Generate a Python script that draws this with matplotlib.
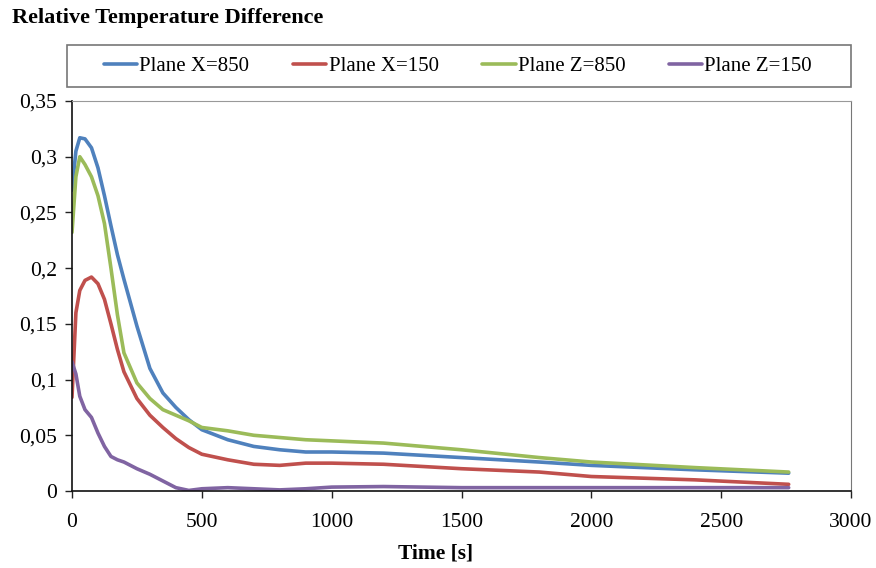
import matplotlib
matplotlib.use("Agg")
import matplotlib.pyplot as plt
from matplotlib.ticker import FuncFormatter, MultipleLocator
from matplotlib.patches import Rectangle

time_s = [0, 15, 30, 50, 75, 100, 125, 150, 175, 200, 250, 300, 350, 400, 450,
          500, 600, 700, 800, 900, 1000, 1200, 1500, 1800, 2000, 2400, 2760]
plane_x850 = [0.270, 0.305, 0.317, 0.316, 0.308, 0.290, 0.265, 0.238, 0.212, 0.190,
              0.148, 0.110, 0.088, 0.075, 0.064, 0.055, 0.046, 0.040, 0.037, 0.035,
              0.035, 0.034, 0.030, 0.026, 0.023, 0.019, 0.016]
plane_x150 = [0.084, 0.160, 0.180, 0.189, 0.192, 0.186, 0.172, 0.150, 0.127, 0.107,
              0.083, 0.068, 0.057, 0.047, 0.039, 0.033, 0.028, 0.024, 0.023, 0.025,
              0.025, 0.024, 0.020, 0.017, 0.013, 0.010, 0.006]
plane_z850 = [0.232, 0.282, 0.300, 0.293, 0.282, 0.265, 0.240, 0.200, 0.158, 0.124,
              0.097, 0.083, 0.073, 0.068, 0.063, 0.057, 0.054, 0.050, 0.048, 0.046,
              0.045, 0.043, 0.037, 0.030, 0.026, 0.021, 0.017]
plane_z150 = [0.116, 0.105, 0.085, 0.073, 0.066, 0.052, 0.040, 0.031, 0.028, 0.026,
              0.020, 0.015, 0.009, 0.003, 0.0005, 0.002, 0.003, 0.002, 0.001, 0.002,
              0.0035, 0.004, 0.003, 0.003, 0.003, 0.003, 0.003]

series_labels = ["Plane X=850", "Plane X=150", "Plane Z=850", "Plane Z=150"]
series_colors = ["#4F81BD", "#C0504D", "#9BBB59", "#8064A2"]

plt.rcParams['font.family'] = ['Liberation Serif', 'DejaVu Serif']

fig = plt.figure(figsize=(8.76, 5.68), dpi=100)
ax = fig.add_axes([72/876, 77/568, 779/876, 390/568])

for vals, lab, col in zip([plane_x850, plane_x150, plane_z850, plane_z150],
                          series_labels, series_colors):
    ax.plot(time_s, vals, color=col, lw=2.6, label=lab, solid_capstyle='round',
            solid_joinstyle='round')

ax.set_xlim(0, 3000)
ax.set_ylim(0, 0.35)
ax.xaxis.set_major_locator(MultipleLocator(500))
ax.yaxis.set_major_locator(MultipleLocator(0.05))
ax.yaxis.set_major_formatter(FuncFormatter(lambda v, p: ("%g" % round(v, 3)).replace('.', ',')))
ax.tick_params(axis='both', direction='out', length=5, width=1, labelsize=15.5, color='#222222')
ax.tick_params(axis='x', pad=11)
ax.tick_params(axis='y', pad=6)
for s in ['left', 'bottom']:
    ax.spines[s].set_color('#111111')
    ax.spines[s].set_linewidth(1.2)
ax.spines['top'].set_color('#999999')
ax.spines['right'].set_color('#777777')
ax.set_xlabel("Time [s]", fontsize=15.5, fontweight='bold')
ax.xaxis.set_label_coords((436 - 72) / 779, -0.135)

fig.text(12/876, 1 - 18/568, "Relative Temperature Difference", fontsize=16,
         fontweight='bold', va='center', ha='left')

box = Rectangle((67/876, 1 - 87/568), (851-67)/876, 42/568, transform=fig.transFigure,
                fill=False, edgecolor='#777777', lw=1.2)
fig.add_artist(box)
handles, labels = ax.get_legend_handles_labels()
fig.legend(handles, labels, loc='center', bbox_to_anchor=(458/876, 1 - 66/568), ncol=4,
           frameon=False, fontsize=15, handlelength=1.6, handletextpad=0.1,
           columnspacing=2.1)

fig.savefig("out.png", dpi=100)
